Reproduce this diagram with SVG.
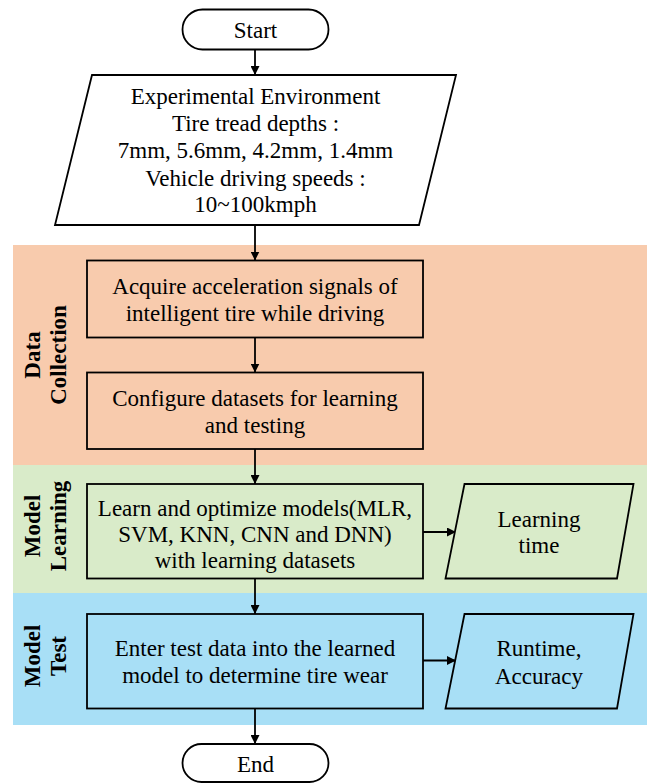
<svg xmlns="http://www.w3.org/2000/svg" width="651" height="783" viewBox="0 0 651 783">
<style>
.s{stroke:#000;stroke-width:1.8;}
.t{font-family:"Liberation Serif","Times New Roman",serif;font-size:23px;fill:#000;text-anchor:middle;}
.l{font-family:"Liberation Serif","Times New Roman",serif;font-size:23px;font-weight:bold;fill:#000;text-anchor:middle;}
.c{stroke:#000;stroke-width:1.8;fill:none;marker-end:url(#ah);}
</style>
<defs>
<marker id="ah" viewBox="0 0 10 10" refX="10" refY="5" markerWidth="9" markerHeight="9" markerUnits="userSpaceOnUse" orient="auto">
<path d="M0,0 L10,5 L0,10 z" fill="#000"/>
</marker>
</defs>
<rect width="651" height="783" fill="#fff"/>
<g id="bands">
<rect x="13" y="245" width="634" height="220" fill="#F8CBAD"/>
<rect x="13" y="465" width="634" height="128" fill="#D9EBC9"/>
<rect x="13" y="593" width="634" height="132" fill="#A8DFF6"/>
</g>
<g id="lane-labels">
<text class="l" transform="translate(40,355) rotate(-90)">Data</text>
<text class="l" transform="translate(66,355) rotate(-90)">Collection</text>
<text class="l" transform="translate(40,526) rotate(-90)">Model</text>
<text class="l" transform="translate(66,526) rotate(-90)">Learning</text>
<text class="l" transform="translate(40,656) rotate(-90)">Model</text>
<text class="l" transform="translate(66,656) rotate(-90)">Test</text>
</g>
<g id="connectors">
<line class="c" x1="255" y1="49.5" x2="255" y2="75"/>
<line class="c" x1="255" y1="225" x2="255" y2="260.5"/>
<line class="c" x1="255" y1="337.5" x2="255" y2="372.5"/>
<line class="c" x1="255" y1="449" x2="255" y2="484"/>
<line class="c" x1="423" y1="532" x2="456" y2="532"/>
<line class="c" x1="255" y1="578.5" x2="255" y2="614"/>
<line class="c" x1="423" y1="660.5" x2="456" y2="660.5"/>
<line class="c" x1="255" y1="708.5" x2="255" y2="744"/>
</g>
<g id="start">
<rect class="s" x="182.5" y="9.5" width="146" height="40" rx="20" fill="#fff"/>
<text class="t" x="255.5" y="37.5">Start</text>
</g>
<g id="environment">
<polygon class="s" points="92,75 456,75 419,225 55,225" fill="#fff"/>
<text class="t" x="255.5" y="103.5">Experimental Environment</text>
<text class="t" x="255.5" y="130.5">Tire tread depths :</text>
<text class="t" x="255.5" y="158">7mm, 5.6mm, 4.2mm, 1.4mm</text>
<text class="t" x="255.5" y="185.5">Vehicle driving speeds :</text>
<text class="t" x="255.5" y="212">10~100kmph</text>
</g>
<g id="acquire">
<rect class="s" x="87" y="260.5" width="336" height="77" fill="#F8CBAD"/>
<text class="t" x="255" y="293.5">Acquire acceleration signals of</text>
<text class="t" x="255" y="320.5">intelligent tire while driving</text>
</g>
<g id="configure">
<rect class="s" x="87" y="372.5" width="336" height="76.5" fill="#F8CBAD"/>
<text class="t" x="255" y="405.5">Configure datasets for learning</text>
<text class="t" x="255" y="433">and testing</text>
</g>
<g id="learn">
<rect class="s" x="87" y="484" width="336" height="94.5" fill="#D9EBC9"/>
<text class="t" x="255" y="515.5">Learn and optimize models(MLR,</text>
<text class="t" x="255" y="541.5">SVM, KNN, CNN and DNN)</text>
<text class="t" x="255" y="567.5">with learning datasets</text>
</g>
<g id="learning-time">
<polygon class="s" points="464.5,484 633.5,484 617,578.5 445.5,578.5" fill="#D9EBC9"/>
<text class="t" x="539" y="526.5">Learning</text>
<text class="t" x="539" y="552.5">time</text>
</g>
<g id="test">
<rect class="s" x="87" y="614" width="336" height="94.5" fill="#A8DFF6"/>
<text class="t" x="255" y="655.5">Enter test data into the learned</text>
<text class="t" x="255" y="682.5">model to determine tire wear</text>
</g>
<g id="runtime">
<polygon class="s" points="464.5,614 633.5,614 617,708.5 445.5,708.5" fill="#A8DFF6"/>
<text class="t" x="539" y="655.5">Runtime,</text>
<text class="t" x="539" y="683.5">Accuracy</text>
</g>
<g id="end">
<rect class="s" x="182.5" y="744" width="146" height="38" rx="19" fill="#fff"/>
<text class="t" x="255.5" y="771.5">End</text>
</g>
</svg>
